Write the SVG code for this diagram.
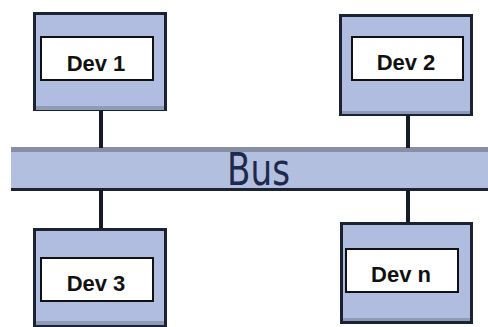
<svg xmlns="http://www.w3.org/2000/svg" width="488" height="327" viewBox="0 0 488 327">
  <style>
    .dev { fill: #b1bde0; stroke: #1b2333; stroke-width: 3; }
    .shade { fill: #8f9ab6; }
    .label-box { fill: #ffffff; stroke: #111111; stroke-width: 2; }
    .label { font-family: "Liberation Sans", Arial, sans-serif; font-weight: bold; font-size: 22px; fill: #111111; text-anchor: middle; }
    .link { stroke: #151a24; stroke-width: 4; }
    .bus-text { font-family: "DejaVu Sans", sans-serif; font-size: 44px; fill: #1d2a4c; }
  </style>
  <rect width="488" height="327" fill="#ffffff"/>

  <g id="bus">
    <rect x="11" y="147" width="477" height="44" fill="#b3bfdf"/>
    <rect x="11" y="147" width="477" height="5" fill="#868fa3"/>
    <rect x="11" y="188" width="477" height="3" fill="#1c2331"/>
    <text class="bus-text" x="227" y="185" textLength="63" lengthAdjust="spacingAndGlyphs">Bus</text>
  </g>

  <g id="connectors">
    <line class="link" x1="101" y1="110" x2="101" y2="148"/>
    <line class="link" x1="408" y1="115" x2="408" y2="148"/>
    <line class="link" x1="101" y1="190" x2="101" y2="229"/>
    <line class="link" x1="408" y1="190" x2="408" y2="223"/>
  </g>

  <g id="dev1">
    <rect class="dev" x="34.5" y="13.5" width="131" height="96"/>
    <rect class="shade" x="36" y="106" width="128" height="4"/>
    <rect class="label-box" x="41" y="37" width="112" height="43"/>
    <text class="label" x="96" y="71">Dev 1</text>
  </g>

  <g id="dev2">
    <rect class="dev" x="340.5" y="15.5" width="131" height="99"/>
    <rect class="shade" x="342" y="111" width="128" height="3"/>
    <rect class="label-box" x="352" y="37" width="111" height="43"/>
    <text class="label" x="406" y="70">Dev 2</text>
  </g>

  <g id="dev3">
    <rect class="dev" x="34.5" y="229.5" width="131" height="96"/>
    <rect class="shade" x="36" y="321" width="128" height="4"/>
    <rect class="label-box" x="41" y="258" width="112" height="43"/>
    <text class="label" x="96" y="291">Dev 3</text>
  </g>

  <g id="devn">
    <rect class="dev" x="341.5" y="223.5" width="130" height="99"/>
    <rect class="shade" x="343" y="318" width="127" height="3"/>
    <rect class="label-box" x="346" y="249" width="112" height="43"/>
    <text class="label" x="401" y="282">Dev n</text>
  </g>
</svg>
